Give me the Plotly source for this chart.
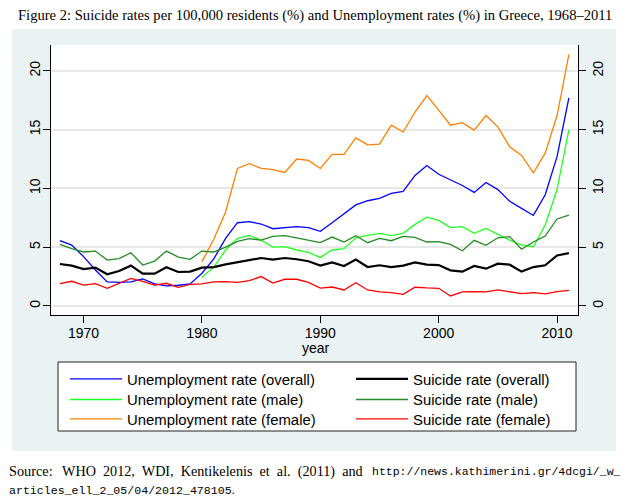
import plotly.graph_objects as go

years = list(range(1968, 2012))
years_80 = list(range(1980, 2012))

unemp_overall = [5.55, 5.18, 4.2, 3.06, 2.04, 2.0, 2.04, 2.3, 1.87, 1.7, 1.76, 1.87,
                 2.78, 4.0, 5.75, 7.08, 7.17, 6.97, 6.57, 6.66, 6.74, 6.66, 6.35,
                 7.08, 7.85, 8.6, 8.95, 9.15, 9.58, 9.75, 11.1, 11.95, 11.2, 10.7,
                 10.25, 9.66, 10.5, 9.9, 8.9, 8.3, 7.7, 9.46, 12.7, 17.7]
unemp_male = [2.44, 3.3, 4.76, 5.75, 6.0, 5.6, 5.0, 5.04, 4.76, 4.56, 4.13,
              4.76, 4.87, 5.8, 6.0, 6.18, 5.98, 6.18, 6.94, 7.56, 7.28, 6.66,
              6.74, 6.18, 6.6, 6.12, 5.6, 5.2, 5.04, 6.88, 9.9, 15.0]
unemp_female = [3.77, 5.67, 8.0, 11.7, 12.1, 11.7, 11.6, 11.36, 12.5, 12.38, 11.7,
                12.9, 12.9, 14.3, 13.7, 13.77, 15.38, 14.8, 16.5, 17.9, 16.66, 15.38,
                15.6, 14.96, 16.2, 15.24, 13.54, 12.8, 11.33, 13.0, 16.2, 21.4]
suicide_overall = [3.57, 3.43, 3.14, 3.26, 2.69, 2.97, 3.43, 2.75, 2.75, 3.29, 2.89, 2.92,
                   3.26, 3.31, 3.54, 3.71, 3.9, 4.08, 3.94, 4.08, 3.97, 3.8, 3.43,
                   3.71, 3.4, 3.94, 3.31, 3.46, 3.31, 3.43, 3.71, 3.51, 3.48, 3.03,
                   2.92, 3.4, 3.17, 3.6, 3.51, 2.92, 3.31, 3.46, 4.3, 4.5]
suicide_male = [5.24, 4.87, 4.59, 4.67, 3.9, 4.02, 4.53, 3.48, 3.82, 4.67, 4.16, 3.97,
                4.67, 4.59, 5.0, 5.5, 5.72, 5.6, 5.92, 5.98, 5.8, 5.58, 5.39,
                5.86, 5.44, 5.98, 5.38, 5.75, 5.55, 5.92, 5.84, 5.44, 5.47, 5.24,
                4.7, 5.58, 5.16, 5.8, 5.9, 4.82, 5.44, 5.95, 7.4, 7.73]
suicide_female = [1.9, 2.1, 1.78, 1.9, 1.5, 1.95, 2.35, 2.1, 1.78, 1.93, 1.59, 1.84,
                  1.87, 2.04, 2.07, 2.0, 2.15, 2.5, 1.95, 2.27, 2.27, 2.0, 1.52,
                  1.61, 1.36, 1.98, 1.36, 1.19, 1.13, 0.99, 1.59, 1.53, 1.5, 0.85,
                  1.19, 1.22, 1.19, 1.36, 1.19, 1.05, 1.13, 1.02, 1.22, 1.33]

x_ticks = [1970, 1980, 1990, 2000, 2010]
y_ticks = [0, 5, 10, 15, 20]

# name, x, y, colour, width, legend slot (column-major as in the original)
series = [
    ("Unemployment rate (overall)", years, unemp_overall, "#0000FF", 1.3, "legend"),
    ("Unemployment rate (male)", years_80, unemp_male, "#22FF22", 1.3, "legend2"),
    ("Unemployment rate (female)", years_80, unemp_female, "#FF8000", 1.3, "legend3"),
    ("Suicide rate (overall)", years, suicide_overall, "#000000", 2.2, "legend4"),
    ("Suicide rate (male)", years, suicide_male, "#238B23", 1.3, "legend5"),
    ("Suicide rate (female)", years, suicide_female, "#FF0000", 1.3, "legend6"),
]

fig = go.Figure()
for name, xs, ys, color, w, lg in series:
    fig.add_trace(go.Scatter(x=xs, y=ys, mode="lines", name=name, legend=lg,
                             line=dict(color=color, width=w)))
# right axis carrier (no legend)
fig.add_trace(go.Scatter(x=[years[0]], y=[suicide_overall[0]], yaxis="y2",
                         mode="lines", showlegend=False, hoverinfo="skip",
                         line=dict(width=0)))

OFF = 8  # page body margin
W, H = 628, 497
# plot area in screen pixels
SX0, SX1, SY0, SY1 = 51, 578, 45, 315
L, T = SX0 - OFF, SY0 - OFF
R, B = W - (SX1 - OFF), H - (SY1 - OFF)
pw, ph = SX1 - SX0, SY1 - SY0

def px(sx):
    return (sx - SX0) / pw

def py(sy):
    return (SY1 - sy) / ph

yr = [-0.77, 22.2]
sans = "Liberation Sans, Arial, sans-serif"
axis_font = dict(family=sans, size=14, color="#000")
leg_font = dict(family=sans, size=14.9, color="#000")
GRAY = "#EAF2F3"

def leg(sx, sy):
    return dict(orientation="v", x=px(sx), y=py(sy), xanchor="left", yanchor="top",
                bgcolor="rgba(0,0,0,0)", borderwidth=0, font=leg_font, itemwidth=52)

row_tops = [362.7, 383.3, 402.7]
col_x = [65, 351]

fig.update_layout(
    width=W, height=H,
    margin=dict(l=L, r=R, t=T, b=B, pad=0),
    paper_bgcolor=GRAY,
    plot_bgcolor="white",
    font=axis_font,
    showlegend=True,
    xaxis=dict(range=[1967.25, 2011.77], tickvals=x_ticks, ticks="outside",
               ticklen=7, tickcolor="#000", showline=True, linecolor="#000",
               linewidth=1.3, showgrid=False, zeroline=False,
               ticklabelstandoff=-2, tickfont=axis_font),
    yaxis=dict(range=yr, tickvals=y_ticks, ticks="outside", ticklen=7,
               tickcolor="#000", showline=True, linecolor="#000", linewidth=1.3,
               showgrid=True, gridcolor="#E8E8E8", gridwidth=1.5, zeroline=False,
               tickangle=-90, tickfont=axis_font, ticklabelstandoff=-3),
    yaxis2=dict(range=yr, tickvals=y_ticks, ticks="outside", ticklen=7,
                tickcolor="#000", showline=True, linecolor="#000", linewidth=1.3,
                showgrid=False, zeroline=False, overlaying="y", side="right",
                tickangle=-90, tickfont=axis_font),
    legend=leg(col_x[0], row_tops[0]),
    legend2=leg(col_x[0], row_tops[1]),
    legend3=leg(col_x[0], row_tops[2]),
    legend4=leg(col_x[1], row_tops[0]),
    legend5=leg(col_x[1], row_tops[1]),
    legend6=leg(col_x[1], row_tops[2]),
    shapes=[
        # white outside the gray graph region
        dict(type="rect", xref="paper", yref="paper", layer="above",
             x0=px(-20), x1=px(W + 20), y0=py(29), y1=py(-20), fillcolor="white", line=dict(width=0)),
        dict(type="rect", xref="paper", yref="paper", layer="above",
             x0=px(-20), x1=px(W + 20), y0=py(H + 20), y1=py(451), fillcolor="white", line=dict(width=0)),
        dict(type="rect", xref="paper", yref="paper", layer="above",
             x0=px(-20), x1=px(12), y0=py(H + 20), y1=py(-20), fillcolor="white", line=dict(width=0)),
        dict(type="rect", xref="paper", yref="paper", layer="above",
             x0=px(616), x1=px(W + 20), y0=py(H + 20), y1=py(-20), fillcolor="white", line=dict(width=0)),
        # legend box
        dict(type="rect", xref="paper", yref="paper", layer="above",
             x0=px(58), x1=px(576), y0=py(431), y1=py(362), fillcolor="white",
             line=dict(width=1, color="#222")),
    ],
)

serif = "Liberation Serif, Times New Roman, serif"
mono = "Liberation Mono, DejaVu Sans Mono, monospace"
PAD = 2  # annotation border + pad

def note(text, sx, sy, anchor, font):
    x = sx - PAD if anchor == "left" else sx + PAD
    fig.add_annotation(text=text, xref="paper", yref="paper", x=px(x), y=py(sy),
                       xanchor=anchor, yanchor="middle", showarrow=False, font=font)

note("Figure 2: Suicide rates per 100,000 residents (%) and Unemployment rates (%) in Greece, 1968–2011",
     18, 15.5, "left", dict(family=serif, size=14.6, color="#000"))
note("year", 314.5 - 13, 348, "left", axis_font)
note("Source:", 9, 471, "left", dict(family=serif, size=14.3, color="#000"))
note("WHO  2012,  WDI,  Kentikelenis  et  al.  (2011)  and", 62, 471, "left",
     dict(family=serif, size=14.2, color="#000"))
note("http://news.kathimerini.gr/4dcgi/_w_", 621, 471, "right",
     dict(family=mono, size=11.5, color="#000"))
note("articles_ell_2_05/04/2012_478105<span style=\"font-family:Liberation Serif\">.</span>",
     9, 490, "left", dict(family=mono, size=11.6, color="#000"))

fig.write_html("out.html")
